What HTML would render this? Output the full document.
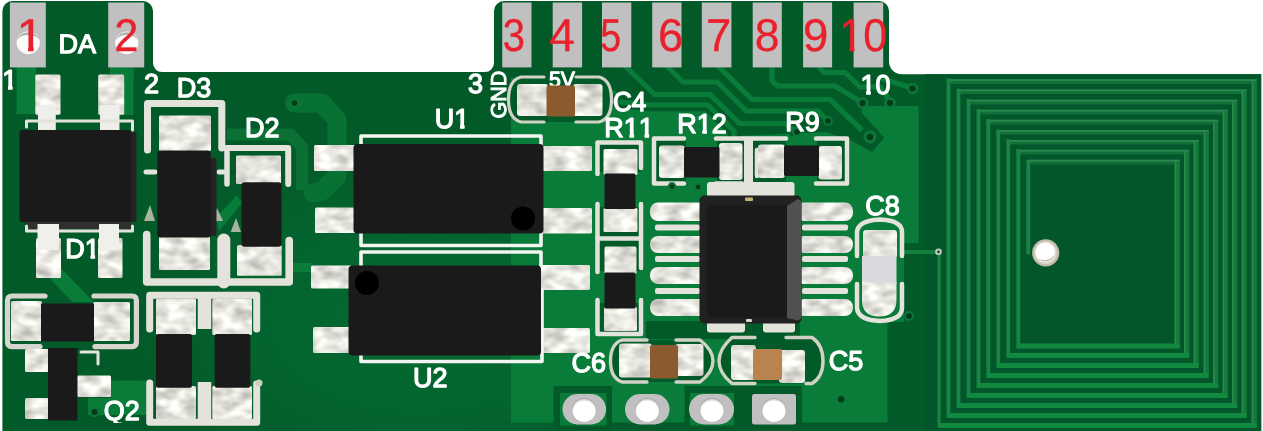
<!DOCTYPE html>
<html lang="en"><head><meta charset="utf-8"><title>PCB</title>
<style>html,body{margin:0;padding:0;background:#fff;overflow:hidden}svg{display:block;font-family:"Liberation Sans",Arial,sans-serif;will-change:transform;-webkit-font-smoothing:antialiased;text-rendering:geometricPrecision;font-kerning:none}</style></head>
<body>
<svg width="1263" height="431" viewBox="0 0 1263 431">
<defs>
<linearGradient id="sd" x1="0" y1="0" x2="1" y2="1"><stop offset="0" stop-color="#e2e1dc"/><stop offset="0.5" stop-color="#d2d1cb"/><stop offset="1" stop-color="#dddcd6"/></linearGradient>
<filter id="tex" x="0" y="0" width="100%" height="100%" color-interpolation-filters="sRGB"><feTurbulence type="fractalNoise" baseFrequency="0.06 0.1" numOctaves="2" seed="7" result="n"/><feColorMatrix in="n" type="matrix" values="0.5 0 0 0 0.65  0.5 0 0 0 0.645  0.5 0 0 0 0.62  0 0 0 0 1" result="c"/><feComposite in="c" in2="SourceGraphic" operator="in"/></filter>
<radialGradient id="lg" cx="0.5" cy="0.5" r="0.5"><stop offset="0" stop-color="#056b31" stop-opacity="1"/><stop offset="0.55" stop-color="#046530" stop-opacity="0.8"/><stop offset="1" stop-color="#035a29" stop-opacity="0"/></radialGradient>
<clipPath id="bc"><path d="M2.4 431 L2.4 11 A10 10 0 0 1 12.4 1 L143 1 A10 10 0 0 1 153 11 L153 63.1 A9 9 0 0 0 162 72.1 L485 72.1 A9 9 0 0 0 494 63.1 L494 11 A10 10 0 0 1 504 1 L879 1 A10 10 0 0 1 889 11 L889 61.4 A12.8 12.8 0 0 0 901.8 74.2 L1261.2 74.2 L1261.2 431 Z"/></clipPath>
<clipPath id="k1"><path d="M13.49 0.89 H65.08 V46.05 H13.49 Z M28.06 45.05 H33.63 V52.9 H28.06 Z"/></clipPath>
<clipPath id="k2"><path d="M836.18 0.89 H926.04 V46.05 H836.18 Z M849.53 45.05 H854.5 V52.9 H849.53 Z M864.37 45.05 H886.45 V58.9 H864.37 Z"/></clipPath>
<clipPath id="k3"><path d="M-0.74 58.73 H29.26 V85.55 H-0.74 Z M7.98 84.55 H12.49 V92.0 H7.98 Z"/></clipPath>
<clipPath id="k4"><path d="M62.34 227.13 H119.34 V253.95 H62.34 Z M66.4 252.95 H84.69 V266.4 H66.4 Z M90.56 252.95 H95.06 V260.4 H90.56 Z"/></clipPath>
<clipPath id="kq"><rect x="100" y="395" width="45" height="28"/></clipPath>
<clipPath id="k5"><path d="M601.34 106.13 H685.34 V132.95 H601.34 Z M605.4 131.95 H623.73 V145.4 H605.4 Z M629.56 131.95 H634.06 V139.4 H629.56 Z M644.58 131.95 H649.08 V139.4 H644.58 Z"/></clipPath>
<clipPath id="k6"><path d="M674.14 102.43 H758.14 V129.25 H674.14 Z M678.2 128.25 H696.53 V141.7 H678.2 Z M702.36 128.25 H706.86 V135.7 H702.36 Z M711.86 128.25 H726.46 V141.7 H711.86 Z"/></clipPath>
<clipPath id="k7"><path d="M431.77 97.03 H488.77 V123.85 H431.77 Z M435.7 122.85 H453.33 V136.3 H435.7 Z M459.99 122.85 H464.5 V130.3 H459.99 Z"/></clipPath>
<clipPath id="k8"><path d="M857.46 63.03 H914.46 V89.85 H857.46 Z M866.18 88.85 H870.69 V96.3 H866.18 Z M875.38 88.85 H890.59 V102.3 H875.38 Z"/></clipPath>
</defs>
<path d="M2.4 431 L2.4 11 A10 10 0 0 1 12.4 1 L143 1 A10 10 0 0 1 153 11 L153 63.1 A9 9 0 0 0 162 72.1 L485 72.1 A9 9 0 0 0 494 63.1 L494 11 A10 10 0 0 1 504 1 L879 1 A10 10 0 0 1 889 11 L889 61.4 A12.8 12.8 0 0 0 901.8 74.2 L1261.2 74.2 L1261.2 431 Z" fill="#035a29"/>
<ellipse cx="420" cy="315" rx="330" ry="210" fill="url(#lg)" clip-path="url(#bc)"/>
<rect x="925" y="74.2" width="336.2" height="356.8" fill="#02562a"/>
<path d="M511 78 L888 78 L888 106 L918.5 106 L918.5 243 L904 243 L904 322 L887.5 322 L887.5 422.5 L511 422.5 Z" fill="#097c39"/>
<rect x="646" y="321" width="154" height="18" fill="#035a29"/>
<rect x="553.5" y="386" width="58.5" height="45" fill="#035a29"/>
<rect x="684.5" y="386" width="117.5" height="45" fill="#035a29"/>
<rect x="560" y="393" width="46.5" height="32.5" fill="#097c39"/>
<rect x="690" y="393" width="44" height="32.5" fill="#097c39"/>
<path d="M294.5 103 L322 103 L337 120 L337 176 L322 191 L313 193" fill="none" stroke="#087235" stroke-width="19" stroke-linecap="round" stroke-linejoin="round"/>
<circle cx="294.5" cy="103" r="5.0" fill="#0d7538"/>
<circle cx="294.5" cy="103" r="2.8080000000000003" fill="#04391b"/>
<path d="M227 134.5 L290 134.5 L302 147 L302 190" fill="none" stroke="#0a7034" stroke-width="12" stroke-linecap="butt" stroke-linejoin="round"/>
<rect x="16.5" y="67" width="19.5" height="47" fill="#097c39"/>
<rect x="110" y="67" width="23.5" height="9" fill="#097c39"/>
<rect x="123.5" y="67" width="10.0" height="48" fill="#097c39"/>
<path d="M61.5 269 L94 302 L72 302 L50 278.5 Z" fill="#097c39"/>
<path d="M215.4 218.3 L237 195.3 L242 203 L219.2 231 Z" fill="#097c39"/>
<rect x="291" y="263" width="22" height="9" fill="#097c39"/>
<path d="M111 380.5 L146 380.5 L146 415 L88 415 L88 398 L111 398 Z" fill="#097c39"/>
<path d="M600 66 L888 66 L888 78 L920 78 L920 106 L862 106 L862 113 L884 138 L872 152 L850 140 L826 132 L735 136 L705 110 L650 109 L636 100 L612 90 L600 80 Z" fill="#035a29"/>
<path d="M623 64 L654.5 94.5 L710 94.5 L739.5 123.5 L786 123.5 L796 132" fill="none" stroke="#035a29" stroke-width="12.5" stroke-linecap="butt" stroke-linejoin="round"/>
<path d="M665 64 L683 82 L717 82 L746.5 111 L818 111 L828 121" fill="none" stroke="#035a29" stroke-width="12.5" stroke-linecap="butt" stroke-linejoin="round"/>
<path d="M716 64 L752 99.5 L830 99.5 L868 136" fill="none" stroke="#035a29" stroke-width="12.5" stroke-linecap="butt" stroke-linejoin="round"/>
<path d="M772 64 L772 81 L777.5 86 L835 86 L861 102" fill="none" stroke="#035a29" stroke-width="12.5" stroke-linecap="butt" stroke-linejoin="round"/>
<path d="M817 64 L824 72.5 L845 72.5 L860 87 L880 87 L890 101" fill="none" stroke="#035a29" stroke-width="12.5" stroke-linecap="butt" stroke-linejoin="round"/>
<path d="M612 101 L650 105 L708 105 L734 131 L734 140" fill="none" stroke="#035a29" stroke-width="12.5" stroke-linecap="butt" stroke-linejoin="round"/>
<path d="M880 78 L912 88" fill="none" stroke="#035a29" stroke-width="12.5" stroke-linecap="butt" stroke-linejoin="round"/>
<rect x="494" y="66" width="395" height="12" fill="#035a29"/>
<path d="M623 64 L654.5 94.5 L710 94.5 L739.5 123.5 L786 123.5 L796 132" fill="none" stroke="#097c39" stroke-width="5.2" stroke-linecap="butt" stroke-linejoin="round"/>
<path d="M665 64 L683 82 L717 82 L746.5 111 L818 111 L828 121" fill="none" stroke="#097c39" stroke-width="5.2" stroke-linecap="butt" stroke-linejoin="round"/>
<path d="M716 64 L752 99.5 L830 99.5 L868 136" fill="none" stroke="#097c39" stroke-width="5.2" stroke-linecap="butt" stroke-linejoin="round"/>
<path d="M772 64 L772 81 L777.5 86 L835 86 L861 102" fill="none" stroke="#097c39" stroke-width="5.2" stroke-linecap="butt" stroke-linejoin="round"/>
<path d="M817 64 L824 72.5 L845 72.5 L860 87 L880 87 L890 101" fill="none" stroke="#097c39" stroke-width="5.2" stroke-linecap="butt" stroke-linejoin="round"/>
<path d="M612 101 L650 105 L708 105 L734 131 L734 140" fill="none" stroke="#097c39" stroke-width="5.2" stroke-linecap="butt" stroke-linejoin="round"/>
<path d="M880 78 L912 88" fill="none" stroke="#097c39" stroke-width="5.2" stroke-linecap="butt" stroke-linejoin="round"/>
<path d="M946.9 81.6 L1256.8 81.6" stroke="#116f38" stroke-width="4.6" stroke-linecap="butt" fill="none"/>
<path d="M946.9 80.1 L1256.8 80.1" stroke="#2a8a50" stroke-width="1.8" stroke-linecap="butt" fill="none"/>
<path d="M1254.3 81.5 L1254.3 425.5" stroke="#147a3c" stroke-width="5" stroke-linecap="butt" fill="none"/>
<path d="M1252.4 80.5 L1252.4 425.5" stroke="#288a4e" stroke-width="1.6" stroke-linecap="butt" fill="none"/>
<path d="M948.5 80.5 L948.5 415.5" stroke="#1a8444" stroke-width="3.8" stroke-linecap="square" fill="none"/>
<path d="M956.9 91.8 L1246.8 91.8" stroke="#116f38" stroke-width="4.6" stroke-linecap="butt" fill="none"/>
<path d="M956.9 90.3 L1246.8 90.3" stroke="#2a8a50" stroke-width="1.8" stroke-linecap="butt" fill="none"/>
<path d="M1244.3 91.7 L1244.3 415.5" stroke="#147a3c" stroke-width="5" stroke-linecap="butt" fill="none"/>
<path d="M1242.4 90.7 L1242.4 415.5" stroke="#288a4e" stroke-width="1.6" stroke-linecap="butt" fill="none"/>
<path d="M958.5 90.7 L958.5 405.5" stroke="#1a8444" stroke-width="3.8" stroke-linecap="square" fill="none"/>
<path d="M966.9 102.1 L1237.3 102.1" stroke="#116f38" stroke-width="4.6" stroke-linecap="butt" fill="none"/>
<path d="M966.9 100.6 L1237.3 100.6" stroke="#2a8a50" stroke-width="1.8" stroke-linecap="butt" fill="none"/>
<path d="M1234.8 102 L1234.8 405.5" stroke="#147a3c" stroke-width="5" stroke-linecap="butt" fill="none"/>
<path d="M1232.9 101 L1232.9 405.5" stroke="#288a4e" stroke-width="1.6" stroke-linecap="butt" fill="none"/>
<path d="M968.5 101 L968.5 395.5" stroke="#1a8444" stroke-width="3.8" stroke-linecap="square" fill="none"/>
<path d="M976.9 112.1 L1227.8 112.1" stroke="#116f38" stroke-width="4.6" stroke-linecap="butt" fill="none"/>
<path d="M976.9 110.6 L1227.8 110.6" stroke="#2a8a50" stroke-width="1.8" stroke-linecap="butt" fill="none"/>
<path d="M1225.3 112 L1225.3 395.5" stroke="#147a3c" stroke-width="5" stroke-linecap="butt" fill="none"/>
<path d="M1223.4 111 L1223.4 395.5" stroke="#288a4e" stroke-width="1.6" stroke-linecap="butt" fill="none"/>
<path d="M978.5 111 L978.5 385.5" stroke="#1a8444" stroke-width="3.8" stroke-linecap="square" fill="none"/>
<path d="M986.6999999999999 122.1 L1218.3 122.1" stroke="#116f38" stroke-width="4.6" stroke-linecap="butt" fill="none"/>
<path d="M986.6999999999999 120.6 L1218.3 120.6" stroke="#2a8a50" stroke-width="1.8" stroke-linecap="butt" fill="none"/>
<path d="M1215.8 122 L1215.8 385.5" stroke="#147a3c" stroke-width="5" stroke-linecap="butt" fill="none"/>
<path d="M1213.9 121 L1213.9 385.5" stroke="#288a4e" stroke-width="1.6" stroke-linecap="butt" fill="none"/>
<path d="M988.3 121 L988.3 375.5" stroke="#1a8444" stroke-width="3.8" stroke-linecap="square" fill="none"/>
<path d="M996.6999999999999 132.4 L1208.8 132.4" stroke="#116f38" stroke-width="4.6" stroke-linecap="butt" fill="none"/>
<path d="M996.6999999999999 130.9 L1208.8 130.9" stroke="#2a8a50" stroke-width="1.8" stroke-linecap="butt" fill="none"/>
<path d="M1206.3 132.3 L1206.3 375.5" stroke="#147a3c" stroke-width="5" stroke-linecap="butt" fill="none"/>
<path d="M1204.4 131.3 L1204.4 375.5" stroke="#288a4e" stroke-width="1.6" stroke-linecap="butt" fill="none"/>
<path d="M998.3 131.3 L998.3 365.5" stroke="#1a8444" stroke-width="3.8" stroke-linecap="square" fill="none"/>
<path d="M1006.6999999999999 142.29999999999998 L1198.8 142.29999999999998" stroke="#116f38" stroke-width="4.6" stroke-linecap="butt" fill="none"/>
<path d="M1006.6999999999999 140.79999999999998 L1198.8 140.79999999999998" stroke="#2a8a50" stroke-width="1.8" stroke-linecap="butt" fill="none"/>
<path d="M1196.3 142.2 L1196.3 365.5" stroke="#147a3c" stroke-width="5" stroke-linecap="butt" fill="none"/>
<path d="M1194.4 141.2 L1194.4 365.5" stroke="#288a4e" stroke-width="1.6" stroke-linecap="butt" fill="none"/>
<path d="M1008.3 141.2 L1008.3 355.5" stroke="#1a8444" stroke-width="3.8" stroke-linecap="square" fill="none"/>
<path d="M1016.6999999999999 152.1 L1189.3 152.1" stroke="#116f38" stroke-width="4.6" stroke-linecap="butt" fill="none"/>
<path d="M1016.6999999999999 150.6 L1189.3 150.6" stroke="#2a8a50" stroke-width="1.8" stroke-linecap="butt" fill="none"/>
<path d="M1186.8 152 L1186.8 355.5" stroke="#147a3c" stroke-width="5" stroke-linecap="butt" fill="none"/>
<path d="M1184.9 151 L1184.9 355.5" stroke="#288a4e" stroke-width="1.6" stroke-linecap="butt" fill="none"/>
<path d="M1018.3 151 L1018.3 346" stroke="#1a8444" stroke-width="3.8" stroke-linecap="square" fill="none"/>
<path d="M1026.7 162.1 L1179.8 162.1" stroke="#116f38" stroke-width="4.6" stroke-linecap="butt" fill="none"/>
<path d="M1026.7 160.6 L1179.8 160.6" stroke="#2a8a50" stroke-width="1.8" stroke-linecap="butt" fill="none"/>
<path d="M1177.3 162 L1177.3 346" stroke="#147a3c" stroke-width="5" stroke-linecap="butt" fill="none"/>
<path d="M1175.4 161 L1175.4 346" stroke="#288a4e" stroke-width="1.6" stroke-linecap="butt" fill="none"/>
<path d="M1028.3 161 L1028.3 254.5" stroke="#1a8444" stroke-width="3.8" stroke-linecap="butt" fill="none"/>
<path d="M938.35 425.5 L1256.8 425.5" stroke="#11893f" stroke-width="5" fill="none"/>
<path d="M946.85 415.5 L1246.8 415.5" stroke="#11893f" stroke-width="5" fill="none"/>
<path d="M956.85 405.5 L1237.3 405.5" stroke="#11893f" stroke-width="5" fill="none"/>
<path d="M966.85 395.5 L1227.8 395.5" stroke="#11893f" stroke-width="5" fill="none"/>
<path d="M976.85 385.5 L1218.3 385.5" stroke="#11893f" stroke-width="5" fill="none"/>
<path d="M986.65 375.5 L1208.8 375.5" stroke="#11893f" stroke-width="5" fill="none"/>
<path d="M996.65 365.5 L1198.8 365.5" stroke="#11893f" stroke-width="5" fill="none"/>
<path d="M1006.65 355.5 L1189.3 355.5" stroke="#11893f" stroke-width="5" fill="none"/>
<path d="M1016.65 346 L1179.8 346" stroke="#11893f" stroke-width="5" fill="none"/>
<path d="M904 252 L938 252" fill="none" stroke="#14803f" stroke-width="4.2" stroke-linecap="butt" stroke-linejoin="round"/>
<path d="M939 252 L939 427" fill="none" stroke="#1a8444" stroke-width="3.3" stroke-linecap="butt" stroke-linejoin="round"/>
<circle cx="938.5" cy="251.8" r="3.3" fill="#c8cec0"/>
<circle cx="938.5" cy="251.8" r="1.5" fill="#3a4a3a"/>
<circle cx="1045.7" cy="252.9" r="13.6" fill="#c4bba8"/>
<circle cx="1045.6" cy="252.7" r="11.4" fill="#ddd8cc"/>
<circle cx="1045.3" cy="252.2" r="9.8" fill="#ffffff"/>
<path d="M1038.5 258.5 A9.8 9.8 0 0 0 1055 253 A11 10 0 0 1 1038.5 258.5 Z" fill="#b4b4b4"/>
<rect x="9.9" y="2.5" width="35.9" height="64.9" fill="#c0c0c0"/>
<rect x="108.2" y="2.5" width="36.0" height="64.9" fill="#c0c0c0"/>
<rect x="502.2" y="2.5" width="29.3" height="64.9" fill="#c0c0c0"/>
<rect x="552.7" y="2.5" width="29.4" height="64.9" fill="#c0c0c0"/>
<rect x="602" y="2.5" width="29.3" height="64.9" fill="#c0c0c0"/>
<rect x="652.2" y="2.5" width="29.3" height="64.9" fill="#c0c0c0"/>
<rect x="701.8" y="2.5" width="29.6" height="64.9" fill="#c0c0c0"/>
<rect x="752.7" y="2.5" width="29.1" height="64.9" fill="#c0c0c0"/>
<rect x="803.1" y="2.5" width="29.0" height="64.9" fill="#c0c0c0"/>
<rect x="853.6" y="2.5" width="29.6" height="64.9" fill="#c0c0c0"/>
<ellipse cx="28.2" cy="42.8" rx="11.6" ry="11.4" fill="#fbfbfb"/>
<path d="M17.2 40 A11.5 11 0 0 1 39.2 40 A12 8.5 0 0 0 17.2 40 Z" fill="#b0b0b0"/>
<ellipse cx="126.8" cy="42.8" rx="11.6" ry="11.4" fill="#fbfbfb"/>
<path d="M115.8 40 A11.5 11 0 0 1 137.8 40 A12 8.5 0 0 0 115.8 40 Z" fill="#b0b0b0"/>
<g clip-path="url(#k1)"><text transform="translate(16.49,50.75) scale(1.13,1.07)" font-size="43" fill="#e8212c" stroke="#e8212c" stroke-width="0.3" stroke-linejoin="round">1</text></g>
<text transform="translate(114.37,50.75) scale(1.01,1.07)" font-size="43" fill="#e8212c" stroke="#e8212c" stroke-width="0.3" stroke-linejoin="round">2</text>
<text transform="translate(502.63,50.75) scale(0.93,1.07)" font-size="43" fill="#e8212c" stroke="#e8212c" stroke-width="0.3" stroke-linejoin="round">3</text>
<text transform="translate(549.19,50.75) scale(1.077,1.07)" font-size="43" fill="#e8212c" stroke="#e8212c" stroke-width="0.3" stroke-linejoin="round">4</text>
<text transform="translate(600.34,50.75) scale(0.875,1.07)" font-size="43" fill="#e8212c" stroke="#e8212c" stroke-width="0.3" stroke-linejoin="round">5</text>
<text transform="translate(657.94,50.75) scale(1.06,1.07)" font-size="43" fill="#e8212c" stroke="#e8212c" stroke-width="0.3" stroke-linejoin="round">6</text>
<text transform="translate(706.02,50.75) scale(1.057,1.07)" font-size="43" fill="#e8212c" stroke="#e8212c" stroke-width="0.3" stroke-linejoin="round">7</text>
<text transform="translate(754.72,50.75) scale(1.035,1.07)" font-size="43" fill="#e8212c" stroke="#e8212c" stroke-width="0.3" stroke-linejoin="round">8</text>
<text transform="translate(802.91,50.75) scale(1.06,1.07)" font-size="43" fill="#e8212c" stroke="#e8212c" stroke-width="0.3" stroke-linejoin="round">9</text>
<g clip-path="url(#k2)"><text transform="translate(839.18,50.75) scale(1.01,1.07)" font-size="43" fill="#e8212c" stroke="#e8212c" stroke-width="0.3" stroke-linejoin="round">10</text></g>
<rect x="35.3" y="74.5" width="25.2" height="40.3" fill="#d8d7d1" rx="1.5" filter="url(#tex)"/>
<rect x="98.2" y="74.5" width="26.0" height="40.3" fill="#d8d7d1" rx="1.5" filter="url(#tex)"/>
<rect x="38" y="105" width="17.8" height="26" fill="#eeeeea" rx="1.5"/>
<rect x="100" y="105" width="19.5" height="26" fill="#eeeeea" rx="1.5"/>
<path d="M26.5 127 L26.5 121 L132.5 121 L132.5 130" fill="none" stroke="#e3e3dc" stroke-width="3" stroke-linecap="round" stroke-linejoin="round"/>
<rect x="25" y="222" width="106" height="7" fill="#303030" rx="2"/>
<path d="M26.5 226 L26.5 231 L132.5 231 L132.5 226" fill="none" stroke="#e3e3dc" stroke-width="3" stroke-linecap="round" stroke-linejoin="round"/>
<rect x="36" y="238" width="25" height="40" fill="#d8d7d1" rx="1.5" filter="url(#tex)"/>
<rect x="98" y="238" width="24.5" height="40" fill="#d8d7d1" rx="1.5" filter="url(#tex)"/>
<rect x="37.5" y="224" width="21.5" height="26" fill="#efefec"/>
<rect x="99" y="224" width="20" height="26" fill="#efefec"/>
<rect x="128" y="132" width="8.5" height="90" fill="#242424" rx="2"/>
<rect x="19.5" y="130" width="111.5" height="92" fill="#1a1a1a" rx="2.5"/>
<path d="M147.5 150 L147.5 103.5 L221.8 103.5 L221.8 148" fill="none" stroke="#e3e3dc" stroke-width="7" stroke-linecap="round" stroke-linejoin="round"/>
<path d="M221.8 148 L288.2 148 L288.2 184" fill="none" stroke="#e3e3dc" stroke-width="6" stroke-linecap="round" stroke-linejoin="round"/>
<path d="M227 152 L227 184" fill="none" stroke="#e3e3dc" stroke-width="5.5" stroke-linecap="round" stroke-linejoin="round"/>
<path d="M146 172 L155 172" fill="none" stroke="#e3e3dc" stroke-width="5" stroke-linecap="round" stroke-linejoin="round"/>
<path d="M219 172 L226 172" fill="none" stroke="#e3e3dc" stroke-width="5" stroke-linecap="round" stroke-linejoin="round"/>
<path d="M146.7 234.5 L146.7 282 L289.2 282 L289.2 240.5" fill="none" stroke="#e3e3dc" stroke-width="7.6" stroke-linecap="round" stroke-linejoin="round"/>
<path d="M144 221 L155 221 L150 205 Z" fill="#a9b3a0"/>
<path d="M211.5 221 L223 221 L217 208 Z" fill="#a9b3a0"/>
<path d="M230.7 232 L241 232 L236 218 Z" fill="#a9b3a0"/>
<path d="M223.8 240 L223.8 282" fill="none" stroke="#e3e3dc" stroke-width="13" stroke-linecap="round" stroke-linejoin="round"/>
<rect x="159" y="115.5" width="52" height="35.5" fill="#d8d7d1" rx="1.5" filter="url(#tex)"/>
<rect x="159" y="236" width="51" height="34" fill="#d8d7d1" rx="1.5" filter="url(#tex)"/>
<rect x="207" y="158" width="9.5" height="78" fill="#242424" rx="2"/>
<rect x="157.3" y="150.5" width="53.5" height="87.0" fill="#1a1a1a" rx="3"/>
<rect x="236" y="155.5" width="45" height="28.5" fill="#d8d7d1" rx="1.5" filter="url(#tex)"/>
<rect x="237" y="245" width="44.7" height="30.7" fill="#d8d7d1" rx="1.5" filter="url(#tex)"/>
<rect x="241.5" y="182.3" width="40.0" height="64.5" fill="#1a1a1a" rx="3"/>
<path d="M45 296 L12 296 Q7.5 296 7.5 300.5 L7.5 342 Q7.5 346.6 12 346.6 L40 346.6" fill="none" stroke="#d6d6ce" stroke-width="5.2" stroke-linecap="round" stroke-linejoin="round"/>
<path d="M94 296 L132 296 Q136.4 296 136.4 300.5 L136.4 342 Q136.4 346.6 132 346.6 L95 346.6" fill="none" stroke="#d6d6ce" stroke-width="5.2" stroke-linecap="round" stroke-linejoin="round"/>
<rect x="11" y="301" width="31" height="40" fill="#d8d7d1" rx="1.5" filter="url(#tex)"/>
<rect x="93" y="302" width="37" height="39" fill="#d8d7d1" rx="1.5" filter="url(#tex)"/>
<rect x="41" y="303.5" width="53" height="38.0" fill="#1a1a1a" rx="1"/>
<rect x="25" y="349" width="24" height="23" fill="#d8d7d1" rx="1.5" filter="url(#tex)"/>
<rect x="25" y="398" width="24" height="21" fill="#d8d7d1" rx="1.5" filter="url(#tex)"/>
<rect x="77" y="375.5" width="34" height="21.5" fill="#d8d7d1" rx="1.5" filter="url(#tex)"/>
<path d="M81 352 L98 352 L98 364" fill="none" stroke="#e3e3dc" stroke-width="3" stroke-linecap="round" stroke-linejoin="round"/>
<rect x="48" y="348" width="29.5" height="72.5" fill="#1a1a1a" rx="1"/>
<circle cx="94.5" cy="412" r="5.199999999999999" fill="#0d7538"/>
<circle cx="94.5" cy="412" r="2.964" fill="#04391b"/>
<path d="M149.7 329 L149.7 295.2 L256.7 295.2 L256.7 329" fill="none" stroke="#e3e3dc" stroke-width="7" stroke-linecap="round" stroke-linejoin="round"/>
<path d="M204.5 295 L204.5 329" fill="none" stroke="#e3e3dc" stroke-width="13.5" stroke-linecap="butt" stroke-linejoin="round"/>
<path d="M149.7 383 L149.7 422.3 L256.7 422.3 L256.7 384" fill="none" stroke="#e3e3dc" stroke-width="7" stroke-linecap="round" stroke-linejoin="round"/>
<path d="M204.5 382 L204.5 422" fill="none" stroke="#e3e3dc" stroke-width="13.5" stroke-linecap="butt" stroke-linejoin="round"/>
<rect x="156" y="298.6" width="40" height="36.4" fill="#d8d7d1" rx="1.5" filter="url(#tex)"/>
<rect x="156" y="386" width="40" height="33" fill="#d8d7d1" rx="1.5" filter="url(#tex)"/>
<rect x="212.3" y="298.6" width="39.7" height="36.4" fill="#d8d7d1" rx="1.5" filter="url(#tex)"/>
<rect x="212.3" y="386" width="39.7" height="33" fill="#d8d7d1" rx="1.5" filter="url(#tex)"/>
<rect x="156" y="334" width="36" height="53.8" fill="#1a1a1a" rx="2"/>
<rect x="214.7" y="334" width="35.6" height="53.8" fill="#1a1a1a" rx="2"/>
<circle cx="259" cy="383" r="3.5" fill="#cfcfb8"/>
<rect x="314" y="145" width="42" height="26" fill="#d8d7d1" rx="1.5" filter="url(#tex)"/>
<rect x="315" y="207.5" width="41" height="25.5" fill="#d8d7d1" rx="1.5" filter="url(#tex)"/>
<rect x="311" y="265.5" width="41" height="23.0" fill="#d8d7d1" rx="1.5" filter="url(#tex)"/>
<rect x="313" y="327" width="39" height="26" fill="#d8d7d1" rx="1.5" filter="url(#tex)"/>
<rect x="541" y="146" width="51" height="25" fill="#d8d7d1" rx="1.5" filter="url(#tex)"/>
<rect x="541" y="208" width="51" height="25.5" fill="#d8d7d1" rx="1.5" filter="url(#tex)"/>
<rect x="539" y="265" width="51" height="25" fill="#d8d7d1" rx="1.5" filter="url(#tex)"/>
<rect x="539" y="328" width="51" height="25" fill="#d8d7d1" rx="1.5" filter="url(#tex)"/>
<path d="M361 146 L361 136 L541 136 L541 146" fill="none" stroke="#f4f4f0" stroke-width="3.6" stroke-linecap="round" stroke-linejoin="round"/>
<path d="M361 232 L361 245.5 L541 245.5 L541 232" fill="none" stroke="#f4f4f0" stroke-width="3.6" stroke-linecap="round" stroke-linejoin="round"/>
<path d="M361 266 L361 252 L541 252 L541 266" fill="none" stroke="#f4f4f0" stroke-width="3.6" stroke-linecap="round" stroke-linejoin="round"/>
<path d="M361 354 L361 361.5 L542 361.5 L542 290" fill="none" stroke="#f4f4f0" stroke-width="3.6" stroke-linecap="round" stroke-linejoin="round"/>
<rect x="353.5" y="144" width="190.0" height="89.5" fill="#1a1a1a" rx="4"/>
<rect x="348.5" y="265.5" width="192.5" height="90.0" fill="#1a1a1a" rx="4"/>
<circle cx="523" cy="218.5" r="12" fill="#000"/>
<circle cx="367" cy="283" r="12" fill="#000"/>
<path d="M521 77 Q508.5 80 508.5 99.5 Q508.5 119 521 122 L599 122 Q611.5 119 611.5 99.5 Q611.5 80 599 77 Z" fill="#035a29"/>
<text transform="translate(549.0,87.05) scale(1.0,1.04)" font-size="21.3" fill="#fff" stroke="#fff" stroke-width="1.1" stroke-linejoin="round">5V</text>
<text transform="translate(505.6,118.6) rotate(-90)" font-size="21.6" fill="#fff" stroke="#fff" stroke-width="1.0">GND</text>
<path d="M544 77 L521 77 Q508.5 80 508.5 99.5 Q508.5 119 521 122 L544 122" fill="none" stroke="#cfd2c4" stroke-width="3.2" stroke-linecap="round" stroke-linejoin="round"/>
<path d="M576 77 L599 77 Q611.5 80 611.5 99.5 Q611.5 119 599 122 L576 122" fill="none" stroke="#cfd2c4" stroke-width="3.2" stroke-linecap="round" stroke-linejoin="round"/>
<rect x="517" y="84" width="31" height="32" fill="#d8d7d1" rx="3" filter="url(#tex)"/>
<rect x="573" y="84" width="29.5" height="32" fill="#d8d7d1" rx="3" filter="url(#tex)"/>
<rect x="546.5" y="85.5" width="28.5" height="31.0" fill="#8b5a2f" rx="2"/>
<rect x="597.5" y="142.5" width="43.5" height="29.5" fill="#035a29"/>
<rect x="597.5" y="207" width="43.5" height="64" fill="#035a29"/>
<rect x="597.5" y="303" width="43.5" height="31" fill="#035a29"/>
<path d="M597.5 174 L597.5 142.5 L641 142.5 L641 168" fill="none" stroke="#e3e3dc" stroke-width="4.5" stroke-linecap="round" stroke-linejoin="round"/>
<path d="M597.5 204 L597.5 238.5 L641 238.5 L641 204" fill="none" stroke="#e3e3dc" stroke-width="4.5" stroke-linecap="round" stroke-linejoin="round"/>
<path d="M597.5 238.5 L597.5 272" fill="none" stroke="#e3e3dc" stroke-width="4.5" stroke-linecap="round" stroke-linejoin="round"/>
<path d="M641 238.5 L641 268" fill="none" stroke="#e3e3dc" stroke-width="4.5" stroke-linecap="round" stroke-linejoin="round"/>
<path d="M597.5 300 L597.5 334 L641 334 L641 300" fill="none" stroke="#e3e3dc" stroke-width="4.5" stroke-linecap="round" stroke-linejoin="round"/>
<rect x="603.5" y="149" width="34.0" height="26" fill="#d8d7d1" rx="1.5" filter="url(#tex)"/>
<rect x="603.5" y="208" width="34.0" height="24" fill="#d8d7d1" rx="1.5" filter="url(#tex)"/>
<rect x="604.5" y="173.5" width="31.0" height="35.5" fill="#1a1a1a" rx="1.5"/>
<rect x="604.5" y="246.5" width="32.0" height="27.5" fill="#d8d7d1" rx="1.5" filter="url(#tex)"/>
<rect x="604" y="307" width="33" height="24" fill="#d8d7d1" rx="1.5" filter="url(#tex)"/>
<rect x="604.5" y="272.5" width="31.0" height="36.0" fill="#1a1a1a" rx="1.5"/>
<rect x="654" y="138.5" width="32" height="45.0" fill="#035a29"/>
<rect x="717" y="138.5" width="31" height="45.0" fill="#035a29"/>
<rect x="752" y="138.5" width="34" height="45.0" fill="#035a29"/>
<rect x="817" y="138.5" width="30" height="45.0" fill="#035a29"/>
<path d="M684 138.5 L654 138.5 L654 183.5 L684 183.5" fill="none" stroke="#e3e3dc" stroke-width="4.5" stroke-linecap="round" stroke-linejoin="round"/>
<path d="M716 138.5 L786 138.5" fill="none" stroke="#e3e3dc" stroke-width="4.5" stroke-linecap="round" stroke-linejoin="round"/>
<path d="M748.5 138.5 L748.5 190" fill="none" stroke="#e3e3dc" stroke-width="9" stroke-linecap="butt" stroke-linejoin="round"/>
<path d="M716 183.5 L742 183.5" fill="none" stroke="#e3e3dc" stroke-width="4.5" stroke-linecap="round" stroke-linejoin="round"/>
<path d="M757 150 L757 176" fill="none" stroke="#e3e3dc" stroke-width="4.5" stroke-linecap="round" stroke-linejoin="round"/>
<path d="M816 138.5 L847 138.5 L847 183.5 L816 183.5" fill="none" stroke="#e3e3dc" stroke-width="4.5" stroke-linecap="round" stroke-linejoin="round"/>
<rect x="659" y="145.5" width="26" height="32.5" fill="#d8d7d1" rx="3" filter="url(#tex)"/>
<rect x="719" y="143" width="23.5" height="37" fill="#d8d7d1" rx="3" filter="url(#tex)"/>
<rect x="684" y="147" width="35.5" height="30.5" fill="#1a1a1a" rx="1.5"/>
<rect x="758" y="144.5" width="27" height="33.5" fill="#d8d7d1" rx="3" filter="url(#tex)"/>
<rect x="818.5" y="146" width="23.5" height="33.5" fill="#d8d7d1" rx="3" filter="url(#tex)"/>
<rect x="784" y="145.5" width="35" height="30.5" fill="#1a1a1a" rx="1.5"/>
<circle cx="672" cy="186.5" r="4.4" fill="#0d7538"/>
<circle cx="672" cy="186.5" r="2.34" fill="#04391b"/>
<circle cx="698" cy="187" r="4.4" fill="#0d7538"/>
<circle cx="698" cy="187" r="2.34" fill="#04391b"/>
<rect x="707" y="182" width="87.5" height="15" fill="#e3e3dc" rx="3"/>
<rect x="707" y="321" width="38" height="11.5" fill="#e3e3dc" rx="3"/>
<rect x="763" y="321" width="32" height="11.5" fill="#e3e3dc" rx="3"/>
<rect x="650" y="202.5" width="62" height="18.5" fill="#d8d7d1" rx="8" filter="url(#tex)"/>
<rect x="796" y="202.5" width="57" height="18.5" fill="#d8d7d1" rx="8" filter="url(#tex)"/>
<rect x="650" y="236" width="62" height="17" fill="#d8d7d1" rx="8" filter="url(#tex)"/>
<rect x="796" y="236" width="57" height="17" fill="#d8d7d1" rx="8" filter="url(#tex)"/>
<rect x="650" y="267" width="62" height="17" fill="#d8d7d1" rx="8" filter="url(#tex)"/>
<rect x="796" y="267" width="57" height="17" fill="#d8d7d1" rx="8" filter="url(#tex)"/>
<rect x="650" y="299" width="62" height="17" fill="#d8d7d1" rx="8" filter="url(#tex)"/>
<rect x="796" y="299" width="57" height="17" fill="#d8d7d1" rx="8" filter="url(#tex)"/>
<rect x="655" y="224.5" width="45" height="6.0" fill="#e3e3dc" rx="2"/>
<rect x="802" y="224.5" width="46" height="6.0" fill="#e3e3dc" rx="2"/>
<rect x="655" y="256" width="45" height="6" fill="#e3e3dc" rx="2"/>
<rect x="802" y="256" width="46" height="6" fill="#e3e3dc" rx="2"/>
<rect x="655" y="288" width="45" height="6" fill="#e3e3dc" rx="2"/>
<rect x="802" y="288" width="46" height="6" fill="#e3e3dc" rx="2"/>
<rect x="699.5" y="195.5" width="102.0" height="128.0" fill="#212121" rx="5"/>
<path d="M787 206 L798 199 Q801.5 200 801.5 204 L801.5 315 Q801.5 319 798 320.5 L787 318 Z" fill="#505050"/>
<rect x="707.5" y="205" width="79.5" height="113" fill="#1a1a1a" rx="2"/>
<rect x="745" y="197.5" width="8" height="3.5" fill="#c9b27a" rx="1"/>
<rect x="746" y="319" width="6" height="3" fill="#d8d8c8" rx="1"/>
<path d="M857 256 L857 232 Q858 220.5 880 219.5 Q902 220.5 902 232 L902 256" fill="none" stroke="#e3e3dc" stroke-width="4.5" stroke-linecap="round" stroke-linejoin="round"/>
<path d="M857 284 L857 308 Q858 320 880 321 Q902 320 902 308 L902 284" fill="none" stroke="#e3e3dc" stroke-width="4.5" stroke-linecap="round" stroke-linejoin="round"/>
<rect x="863" y="230" width="34" height="28" fill="#d8d7d1" rx="3" filter="url(#tex)"/>
<rect x="862" y="256" width="34.5" height="28" fill="#dcd9de"/>
<path d="M862 282 L896.5 282 L896.5 300 Q896.5 316.5 879 316.5 Q862 316.5 862 300 Z" fill="#dcdbd5" filter="url(#tex)"/>
<circle cx="909" cy="316" r="5.0" fill="#0d7538"/>
<circle cx="909" cy="316" r="2.8080000000000003" fill="#04391b"/>
<path d="M622 340 Q610.5 344 610.5 361 Q610.5 378 622 382 L700 382 Q713 372 713 361 Q713 350 700 340 Z" fill="#035a29"/>
<path d="M732 337.5 Q719 349 719 361 Q719 373 732 383.5 L812 383.5 Q823 377 823 361 Q823 345 812 337.5 Z" fill="#035a29"/>
<path d="M647 340 L622 340 Q610.5 344 610.5 361 Q610.5 378 622 382 L647 382" fill="none" stroke="#cfd2c4" stroke-width="3.4" stroke-linecap="round" stroke-linejoin="round"/>
<path d="M676 340 L700 340 Q713 350 713 361 Q713 372 700 382 L676 382" fill="none" stroke="#cfd2c4" stroke-width="3.4" stroke-linecap="round" stroke-linejoin="round"/>
<path d="M755 337.5 L732 337.5 Q719 349 719 361 Q719 373 732 383.5 L755 383.5" fill="none" stroke="#cfd2c4" stroke-width="3.4" stroke-linecap="round" stroke-linejoin="round"/>
<path d="M786 337.5 L812 337.5 Q823 345 823 361 Q823 377 812 383.5 L806 383.5" fill="none" stroke="#cfd2c4" stroke-width="3.4" stroke-linecap="round" stroke-linejoin="round"/>
<rect x="619" y="343.5" width="33" height="34.0" fill="#d8d7d1" rx="3" filter="url(#tex)"/>
<rect x="675" y="344" width="28.5" height="32" fill="#d8d7d1" rx="3" filter="url(#tex)"/>
<rect x="650" y="345" width="28" height="33.5" fill="#8b5a2f" rx="2"/>
<rect x="731" y="345" width="25" height="35" fill="#d8d7d1" rx="3" filter="url(#tex)"/>
<rect x="779" y="350" width="26" height="33" fill="#d8d7d1" rx="3" filter="url(#tex)"/>
<rect x="753" y="349" width="29" height="31" fill="#b8834e" rx="2"/>
<rect x="562.5" y="394" width="43.5" height="30.5" fill="#c0c0c0" rx="15"/>
<ellipse cx="584.2" cy="409.9" rx="12.3" ry="12.0" fill="#a6a6a6"/>
<ellipse cx="584.2" cy="410.4" rx="11.9" ry="11.4" fill="#d9d9d9"/>
<ellipse cx="584.2" cy="411.2" rx="11.4" ry="10.6" fill="#ffffff"/>
<rect x="625" y="394" width="44.5" height="30.5" fill="#c0c0c0" rx="15"/>
<ellipse cx="647.4" cy="409.9" rx="12.3" ry="12.0" fill="#a6a6a6"/>
<ellipse cx="647.4" cy="410.4" rx="11.9" ry="11.4" fill="#d9d9d9"/>
<ellipse cx="647.4" cy="411.2" rx="11.4" ry="10.6" fill="#ffffff"/>
<rect x="689" y="394" width="45" height="30.5" fill="#c0c0c0" rx="15"/>
<ellipse cx="712" cy="409.9" rx="12.3" ry="12.0" fill="#a6a6a6"/>
<ellipse cx="712" cy="410.4" rx="11.9" ry="11.4" fill="#d9d9d9"/>
<ellipse cx="712" cy="411.2" rx="11.4" ry="10.6" fill="#ffffff"/>
<rect x="752" y="394" width="44" height="30.5" fill="#c0c0c0" rx="2.5"/>
<ellipse cx="774" cy="409.9" rx="12.3" ry="12.0" fill="#a6a6a6"/>
<ellipse cx="774" cy="410.4" rx="11.9" ry="11.4" fill="#d9d9d9"/>
<ellipse cx="774" cy="411.2" rx="11.4" ry="10.6" fill="#ffffff"/>
<circle cx="841" cy="399.3" r="3.3" fill="#033d1c"/>
<circle cx="912.5" cy="88.5" r="5.8" fill="#097c39"/>
<circle cx="912.5" cy="88.5" r="5.4" fill="#0d7538"/>
<circle cx="912.5" cy="88.5" r="3.12" fill="#04391b"/>
<circle cx="862.5" cy="103" r="5.8" fill="#097c39"/>
<circle cx="862.5" cy="103" r="5.4" fill="#0d7538"/>
<circle cx="862.5" cy="103" r="3.12" fill="#04391b"/>
<circle cx="890" cy="103" r="5.8" fill="#097c39"/>
<circle cx="890" cy="103" r="5.4" fill="#0d7538"/>
<circle cx="890" cy="103" r="3.12" fill="#04391b"/>
<circle cx="870" cy="137" r="10.5" fill="#035a29"/>
<circle cx="870" cy="137" r="6.4" fill="#097c39"/>
<circle cx="870" cy="137" r="5.6" fill="#0d7538"/>
<circle cx="870" cy="137" r="3.2760000000000002" fill="#04391b"/>
<circle cx="828" cy="121" r="4.9" fill="#0d7538"/>
<circle cx="828" cy="121" r="2.73" fill="#04391b"/>
<circle cx="797" cy="132" r="4.9" fill="#0d7538"/>
<circle cx="797" cy="132" r="2.73" fill="#04391b"/>
<text transform="translate(58.44,53.35) scale(1.0,0.99)" font-size="27" fill="#fff" stroke="#fff" stroke-width="1.3" stroke-linejoin="round">DA</text>
<g clip-path="url(#k3)"><text transform="translate(2.26,89.35) scale(1.0,1.01)" font-size="27" fill="#fff" stroke="#fff" stroke-width="1.3" stroke-linejoin="round">1</text></g>
<text transform="translate(144.09,93.15) scale(1.0,1.01)" font-size="27" fill="#fff" stroke="#fff" stroke-width="1.3" stroke-linejoin="round">2</text>
<text transform="translate(176.64,96.55) scale(1.0,1.01)" font-size="27" fill="#fff" stroke="#fff" stroke-width="1.3" stroke-linejoin="round">D3</text>
<text transform="translate(244.94,137.25) scale(1.0,1.01)" font-size="27" fill="#fff" stroke="#fff" stroke-width="1.3" stroke-linejoin="round">D2</text>
<g clip-path="url(#k4)"><text transform="translate(65.34,257.75) scale(1.0,1.01)" font-size="27" fill="#fff" stroke="#fff" stroke-width="1.3" stroke-linejoin="round">D1</text></g>
<g clip-path="url(#kq)">
<text transform="translate(103.67,420.45) scale(1.0,1.01)" font-size="27" fill="#fff" stroke="#fff" stroke-width="1.3" stroke-linejoin="round">Q2</text>
</g>
<text transform="translate(468.12,93.35) scale(1.0,1.01)" font-size="27" fill="#fff" stroke="#fff" stroke-width="1.3" stroke-linejoin="round">3</text>
<text transform="translate(612.93,110.75) scale(0.965,1.01)" font-size="27" fill="#fff" stroke="#fff" stroke-width="1.3" stroke-linejoin="round">C4</text>
<g clip-path="url(#k5)"><text transform="translate(604.34,136.75) scale(1.0,1.01)" font-size="27" fill="#fff" stroke="#fff" stroke-width="1.3" stroke-linejoin="round">R11</text></g>
<g clip-path="url(#k6)"><text transform="translate(677.14,133.05) scale(1.0,1.01)" font-size="27" fill="#fff" stroke="#fff" stroke-width="1.3" stroke-linejoin="round">R12</text></g>
<text transform="translate(785.34,131.05) scale(1.0,1.01)" font-size="27" fill="#fff" stroke="#fff" stroke-width="1.3" stroke-linejoin="round">R9</text>
<g clip-path="url(#k7)"><text transform="translate(434.77,127.65) scale(1.0,1.01)" font-size="27" fill="#fff" stroke="#fff" stroke-width="1.3" stroke-linejoin="round">U1</text></g>
<text transform="translate(413.07,386.65) scale(1.0,1.01)" font-size="27" fill="#fff" stroke="#fff" stroke-width="1.3" stroke-linejoin="round">U2</text>
<text transform="translate(571.58,372.15) scale(1.0,1.01)" font-size="27" fill="#fff" stroke="#fff" stroke-width="1.3" stroke-linejoin="round">C6</text>
<text transform="translate(828.78,369.65) scale(1.0,1.01)" font-size="27" fill="#fff" stroke="#fff" stroke-width="1.3" stroke-linejoin="round">C5</text>
<text transform="translate(865.18,214.55) scale(1.0,1.01)" font-size="27" fill="#fff" stroke="#fff" stroke-width="1.3" stroke-linejoin="round">C8</text>
<g clip-path="url(#k8)"><text transform="translate(860.46,93.65) scale(1.0,1.01)" font-size="27" fill="#fff" stroke="#fff" stroke-width="1.3" stroke-linejoin="round">10</text></g>
</svg>
</body></html>
